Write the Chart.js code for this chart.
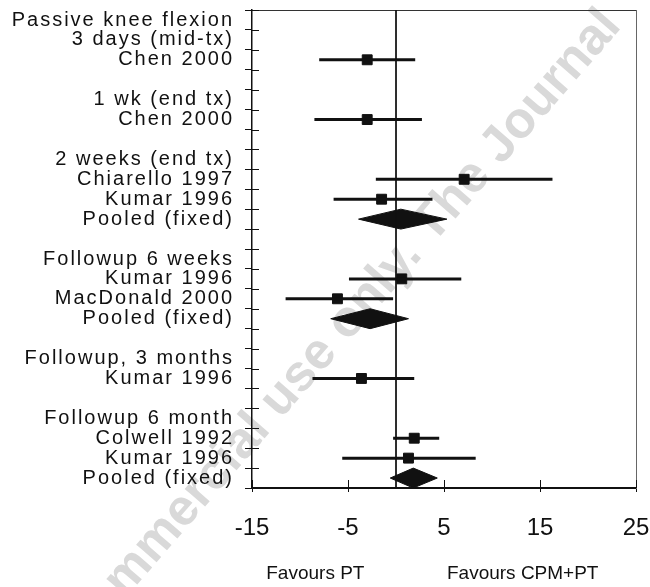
<!DOCTYPE html>
<html>
<head>
<meta charset="utf-8">
<script src="https://cdn.jsdelivr.net/npm/chart.js@4.4.1/dist/chart.umd.min.js"></script>
<style>
  html, body { margin: 0; padding: 0; background: #fff; }
  canvas { display: block; }
</style>
</head>
<body>
<canvas id="forest" width="650" height="587"></canvas>
<script>
"use strict";

// one entry per row of the plot, top to bottom ("" = spacer row)
const rowLabels = [
  "Passive knee flexion", "3 days (mid-tx)", "Chen 2000", "",
  "1 wk (end tx)", "Chen 2000", "",
  "2 weeks (end tx)", "Chiarello 1997", "Kumar 1996", "Pooled (fixed)", "",
  "Followup 6 weeks", "Kumar 1996", "MacDonald 2000", "Pooled (fixed)", "",
  "Followup, 3 months", "Kumar 1996", "",
  "Followup 6 month", "Colwell 1992", "Kumar 1996", "Pooled (fixed)"
];

// single studies: row number (1-based), mean difference and 95% CI
const studyRows = [3, 6, 9, 10, 14, 15, 19, 22, 23];
const studyMeans = [-3.0, -3.0, 7.1, -1.5, 0.6, -6.1, -3.6, 1.9, 1.3];
const studyLower = [-8.0, -8.5, -2.1, -6.5, -4.9, -11.5, -8.7, -0.3, -5.6];
const studyUpper = [2.0, 2.7, 16.3, 3.8, 6.8, -0.3, 1.9, 4.5, 8.3];

// pooled (fixed effect) estimates
const pooledRows = [11, 16, 24];
const pooledMeans = [0.5, -2.7, 1.8];
const pooledLower = [-3.9, -6.8, -0.6];
const pooledUpper = [5.3, 1.3, 4.3];

const xTicks = [-15, -5, 5, 15, 25];
const favoursLabels = ["Favours PT", "Favours CPM+PT"];
const watermarkHidden = "co";
const watermarkText = "mmercial use only. The Journal";

const FONT = "'Liberation Sans', Arial, Helvetica, sans-serif";
const INK = "#111";
const DIAMOND_HALF = 0.5;
const FAVOURS_AT = [-8.4, 13.2];

Chart.defaults.font.family = FONT;
Chart.defaults.color = INK;

const rowBounds = [];
for (let k = 0; k <= rowLabels.length; k++) {
  rowBounds.push(k + 0.5);
}

const datasets = [];

// line of no effect
datasets.push({
  data: [{ x: 0, y: rowBounds[0] }, { x: 0, y: rowBounds[rowBounds.length - 1] }],
  borderColor: INK,
  borderWidth: 1,
  pointRadius: 0,
});

// confidence intervals
studyRows.forEach((row, i) => {
  datasets.push({
    data: [{ x: studyLower[i], y: row }, { x: studyUpper[i], y: row }],
    borderColor: INK,
    borderWidth: 3,
    borderCapStyle: "butt",
    pointRadius: 0,
  });
});

// pooled diamonds
pooledRows.forEach((row, i) => {
  datasets.push({
    data: [
      { x: pooledLower[i], y: row },
      { x: pooledMeans[i], y: row - DIAMOND_HALF },
      { x: pooledUpper[i], y: row },
      { x: pooledMeans[i], y: row + DIAMOND_HALF },
      { x: pooledLower[i], y: row },
    ],
    borderColor: INK,
    backgroundColor: INK,
    borderWidth: 1,
    fill: "shape",
    tension: 0,
    pointRadius: 0,
  });
});

// study squares
datasets.push({
  data: studyRows.map((row, i) => ({ x: studyMeans[i], y: row })),
  showLine: false,
  pointStyle: "rect",
  pointRadius: 7,
  backgroundColor: INK,
  borderColor: INK,
  borderWidth: 1,
});

// scales should not push the plot area around
function noScalePadding(scale) {
  scale.paddingTop = 0;
  scale.paddingBottom = 0;
  scale.paddingLeft = 0;
  scale.paddingRight = 0;
}

const extras = {
  id: "extras",
  beforeDraw(chart) {
    const ctx = chart.ctx;
    // faint watermark behind everything
    ctx.save();
    ctx.fillStyle = "#d9d9d9";
    ctx.font = `bold 51px ${FONT}`;
    ctx.translate(114, 590);
    ctx.rotate((-49 * Math.PI) / 180);
    ctx.textAlign = "left";
    ctx.textBaseline = "middle";
    const hiddenW = ctx.measureText(watermarkHidden).width;
    ctx.fillText(watermarkHidden + watermarkText, -hiddenW, 0);
    ctx.restore();

    // the row labels are letter spaced
    const yScale = chart.scales.y;
    if (!yScale._spaced) {
      const orig = yScale.drawLabels;
      yScale.drawLabels = function (area) {
        ctx.save();
        ctx.letterSpacing = "2px";
        orig.call(this, area);
        ctx.restore();
      };
      yScale._spaced = true;
    }
  },
  afterDraw(chart) {
    const ctx = chart.ctx;
    const { left, bottom } = chart.chartArea;
    const xScale = chart.scales.x;
    const yScale = chart.scales.y;

    // inner halves of the tick marks
    ctx.save();
    ctx.strokeStyle = INK;
    ctx.lineWidth = 1;
    ctx.beginPath();
    yScale.ticks.forEach((t) => {
      const py = Math.round(yScale.getPixelForValue(t.value)) + 0.5;
      ctx.moveTo(left, py);
      ctx.lineTo(left + 7, py);
    });
    xScale.ticks.forEach((t) => {
      const px = Math.round(xScale.getPixelForValue(t.value)) + 0.5;
      ctx.moveTo(px, bottom);
      ctx.lineTo(px, bottom - 8);
    });
    ctx.stroke();

    // favours captions under the axis
    ctx.fillStyle = INK;
    ctx.font = `19px ${FONT}`;
    ctx.textAlign = "center";
    ctx.textBaseline = "middle";
    favoursLabels.forEach((txt, i) => {
      ctx.fillText(txt, xScale.getPixelForValue(FAVOURS_AT[i]), 574);
    });
    ctx.restore();
  },
};

new Chart(document.getElementById("forest"), {
  type: "line",
  data: { datasets: datasets },
  options: {
    responsive: false,
    animation: false,
    events: [],
    layout: { padding: { top: 10, right: 14, left: 0, bottom: 0 } },
    plugins: { legend: { display: false }, tooltip: { enabled: false } },
    scales: {
      x: {
        type: "linear",
        min: -15,
        max: 25,
        afterBuildTicks: (scale) => {
          scale.ticks = xTicks.map((v) => ({ value: v }));
        },
        afterFit: (scale) => {
          scale.height = 99;
          noScalePadding(scale);
        },
        ticks: { padding: 22, font: { size: 24 }, maxRotation: 0 },
        grid: { drawOnChartArea: false, tickLength: 4, color: INK },
        border: { color: INK, width: 2 },
      },
      y: {
        type: "linear",
        reverse: true,
        min: rowBounds[0],
        max: rowBounds[rowBounds.length - 1],
        afterBuildTicks: (scale) => {
          scale.ticks = rowBounds.map((v) => ({ value: v }));
        },
        afterFit: (scale) => {
          scale.width = 252;
          noScalePadding(scale);
        },
        ticks: {
          autoSkip: false,
          labelOffset: 10,
          padding: 11,
          font: { size: 20, lineHeight: 1 },
          callback: (v, i) => rowLabels[i] || "",
        },
        grid: { drawOnChartArea: false, tickLength: 7, color: INK },
        border: { color: INK, width: 1.5 },
      },
      xTop: {
        type: "linear",
        position: "top",
        min: -15,
        max: 25,
        afterFit: (scale) => {
          scale.height = 0;
          noScalePadding(scale);
        },
        ticks: { display: false },
        grid: { drawOnChartArea: false, drawTicks: false },
        border: { color: "#333", width: 1 },
      },
      yRight: {
        type: "linear",
        position: "right",
        min: 0,
        max: 1,
        afterFit: (scale) => {
          scale.width = 0;
          noScalePadding(scale);
        },
        ticks: { display: false },
        grid: { drawOnChartArea: false, drawTicks: false },
        border: { color: "#666", width: 1 },
      },
    },
  },
  plugins: [extras],
});
</script>
</body>
</html>
